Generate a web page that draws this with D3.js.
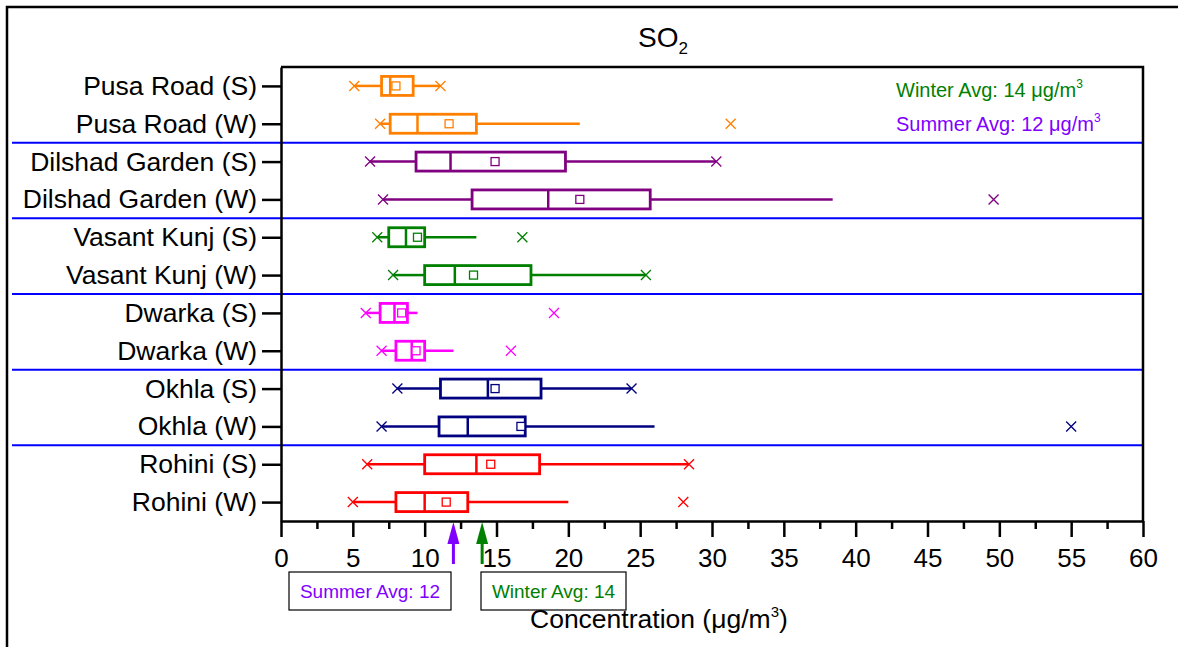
<!DOCTYPE html>
<html lang="en">
<head>
<meta charset="utf-8">
<title>SO2 box plot</title>
<script src="https://d3js.org/d3.v7.min.js"></script>
<style>
  body { margin: 0; background: #fff; }
  svg text { font-family: "Liberation Sans", Arial, sans-serif; }
</style>
</head>
<body>
<script>
// data (concentrations in ug/m3)
var categories = ["Pusa Road (S)", "Pusa Road (W)", "Dilshad Garden (S)", "Dilshad Garden (W)",
                  "Vasant Kunj (S)", "Vasant Kunj (W)", "Dwarka (S)", "Dwarka (W)",
                  "Okhla (S)", "Okhla (W)", "Rohini (S)", "Rohini (W)"];
var minVal      = [5.1, 6.9, 6.2, 7.1, 6.7, 7.8, 5.9, 7.0, 8.1, 7.0, 6.0, 5.0];
var q1          = [7.0, 7.6, 9.4, 13.3, 7.5, 10.0, 6.9, 8.0, 11.1, 11.0, 10.0, 8.0];
var median      = [7.6, 9.5, 11.8, 18.6, 8.7, 12.1, 7.9, 9.1, 14.4, 13.0, 13.6, 10.0];
var mean        = [8.0, 11.7, 14.9, 20.8, 9.5, 13.4, 8.4, 9.4, 14.9, 16.7, 14.6, 11.5];
var q3          = [9.2, 13.6, 19.8, 25.7, 10.0, 17.4, 8.8, 10.0, 18.1, 17.0, 18.0, 13.0];
var whiskerHigh = [11.1, 20.8, 30.3, 38.4, 13.6, 25.4, 9.5, 12.0, 24.4, 26.0, 28.4, 20.0];
var maxVal      = [11.1, 31.3, 30.3, 49.6, 16.8, 25.4, 19.0, 16.0, 24.4, 55.0, 28.4, 28.0];
var colors = ["#FF8000", "#FF8000", "#800080", "#800080", "#008000", "#008000",
              "#FF00FF", "#FF00FF", "#000080", "#000080", "#FF0000", "#FF0000"];
var xTicks = [0, 5, 10, 15, 20, 25, 30, 35, 40, 45, 50, 55, 60];
var summerAvg = 12, winterAvg = 14;

var W = 1178, H = 647;
var pLeft = 281, pRight = 1143, pTop = 67, pBottom = 521;

var svg = d3.select("body").append("svg")
    .attr("width", W).attr("height", H);

var x = d3.scaleLinear().domain([0, 60]).range([pLeft, pRight]);
var y = d3.scalePoint().domain(categories).range([pTop, pBottom]).padding(0.5);
var boxH = 19;

// outer frame (top + left only)
svg.append("path")
    .attr("d", "M7,647 V7 H1178")
    .attr("fill", "none").attr("stroke", "#000").attr("stroke-width", 2.5);

// blue separators between stations
for (var i = 2; i < categories.length; i += 2) {
    var sy = (y(categories[i - 1]) + y(categories[i])) / 2;
    svg.append("line")
        .attr("x1", 12).attr("x2", pRight).attr("y1", sy).attr("y2", sy)
        .attr("stroke", "#0000FF").attr("stroke-width", 2);
}

// plot frame top / right
svg.append("path")
    .attr("d", "M" + pLeft + "," + pTop + " H" + pRight + " V" + pBottom)
    .attr("fill", "none").attr("stroke", "#000").attr("stroke-width", 2.5);

// x axis
var xAxis = svg.append("g")
    .attr("transform", "translate(0," + pBottom + ")")
    .call(d3.axisBottom(x).tickValues(xTicks).tickSize(16).tickSizeOuter(0).tickPadding(6));
svg.append("g")
    .attr("transform", "translate(0," + pBottom + ")")
    .call(d3.axisBottom(x).tickValues(d3.range(2.5, 60, 5)).tickSize(8).tickFormat(""))
    .call(function(g) { g.select(".domain").remove(); });

// y axis
var yAxis = svg.append("g")
    .attr("transform", "translate(" + pLeft + ",0)")
    .call(d3.axisLeft(y).tickSize(19).tickSizeOuter(0).tickPadding(5));

svg.selectAll(".domain, .tick line")
    .attr("stroke", "#000").attr("stroke-width", 2.5);
svg.selectAll(".tick text").attr("fill", "#000");
xAxis.selectAll(".tick text").style("font-size", "26px").attr("dy", "0.93em");
yAxis.selectAll(".tick text").style("font-size", "26.5px");

// boxes
var rows = categories.map(function(c, i) {
    return { name: c, min: minVal[i], q1: q1[i], med: median[i], mean: mean[i],
             q3: q3[i], hi: whiskerHigh[i], max: maxVal[i], color: colors[i] };
});

var g = svg.selectAll(".row").data(rows).enter().append("g")
    .attr("class", "row")
    .attr("transform", function(d) { return "translate(0," + y(d.name) + ")"; });

g.append("line")
    .attr("x1", function(d) { return x(d.min); })
    .attr("x2", function(d) { return x(d.q1); })
    .attr("stroke", function(d) { return d.color; }).attr("stroke-width", 2.5);
g.append("line")
    .attr("x1", function(d) { return x(d.q3); })
    .attr("x2", function(d) { return x(d.hi); })
    .attr("stroke", function(d) { return d.color; }).attr("stroke-width", 2.5);
g.append("rect")
    .attr("x", function(d) { return x(d.q1); })
    .attr("y", -boxH / 2)
    .attr("width", function(d) { return x(d.q3) - x(d.q1); })
    .attr("height", boxH)
    .attr("fill", "none")
    .attr("stroke", function(d) { return d.color; }).attr("stroke-width", 2.8);
g.append("line")
    .attr("x1", function(d) { return x(d.med); })
    .attr("x2", function(d) { return x(d.med); })
    .attr("y1", -boxH / 2).attr("y2", boxH / 2)
    .attr("stroke", function(d) { return d.color; }).attr("stroke-width", 2.5);
g.append("rect")
    .attr("x", function(d) { return x(d.mean) - 4; })
    .attr("y", -4).attr("width", 8).attr("height", 8)
    .attr("fill", "#fff")
    .attr("stroke", function(d) { return d.color; }).attr("stroke-width", 1.3);

// x markers at min and max
function cross(sel, key) {
    sel.append("path")
        .attr("d", function(d) {
            var cx = x(d[key]), s = 5;
            return "M" + (cx - s) + "," + (-s) + "L" + (cx + s) + "," + s +
                   "M" + (cx - s) + "," + s + "L" + (cx + s) + "," + (-s);
        })
        .attr("stroke", function(d) { return d.color; }).attr("stroke-width", 1.3)
        .attr("fill", "none");
}
cross(g, "min");
cross(g, "max");

// title
var title = svg.append("text")
    .attr("x", 638).attr("y", 47)
    .style("font-size", "28px");
title.append("tspan").text("SO");
title.append("tspan").attr("dy", 7).style("font-size", "17px").text("2");

// axis title
var xt = svg.append("text")
    .attr("x", 530).attr("y", 628)
    .style("font-size", "26.5px");
xt.append("tspan").text("Concentration (\u03BCg/m");
xt.append("tspan").attr("dy", -11).style("font-size", "15px").text("3");
xt.append("tspan").attr("dy", 11).text(")");

// legend text at top right
function avgLine(yy, label, color) {
    var t = svg.append("text").attr("x", 896).attr("y", yy)
        .attr("fill", color).style("font-size", "20px");
    t.append("tspan").text(label + " \u03BCg/m");
    t.append("tspan").attr("dy", -9).style("font-size", "12px").text("3");
}
avgLine(97, "Winter Avg: " + winterAvg, "#008000");
avgLine(131, "Summer Avg: " + summerAvg, "#8000FF");

// average arrows under the x axis
function arrow(v, color) {
    var ax = x(v);
    svg.append("line")
        .attr("x1", ax).attr("x2", ax).attr("y1", pBottom + 18).attr("y2", pBottom + 43)
        .attr("stroke", color).attr("stroke-width", 3);
    svg.append("path")
        .attr("d", "M" + ax + "," + (pBottom + 1) + " L" + (ax - 6) + "," + (pBottom + 23) +
                   " L" + (ax + 6) + "," + (pBottom + 23) + "Z")
        .attr("fill", color);
}
arrow(summerAvg, "#8000FF");
arrow(winterAvg, "#008000");

// labelled boxes for the averages
function avgBox(x0, x1, label, color) {
    svg.append("rect")
        .attr("x", x0).attr("y", 572).attr("width", x1 - x0).attr("height", 38)
        .attr("fill", "#fff").attr("stroke", "#000").attr("stroke-width", 1.2);
    svg.append("text")
        .attr("x", (x0 + x1) / 2).attr("y", 598)
        .attr("text-anchor", "middle").attr("fill", color)
        .style("font-size", "19px").text(label);
}
avgBox(289, 451, "Summer Avg: " + summerAvg, "#8000FF");
avgBox(481, 626, "Winter Avg: " + winterAvg, "#008000");
</script>
</body>
</html>
